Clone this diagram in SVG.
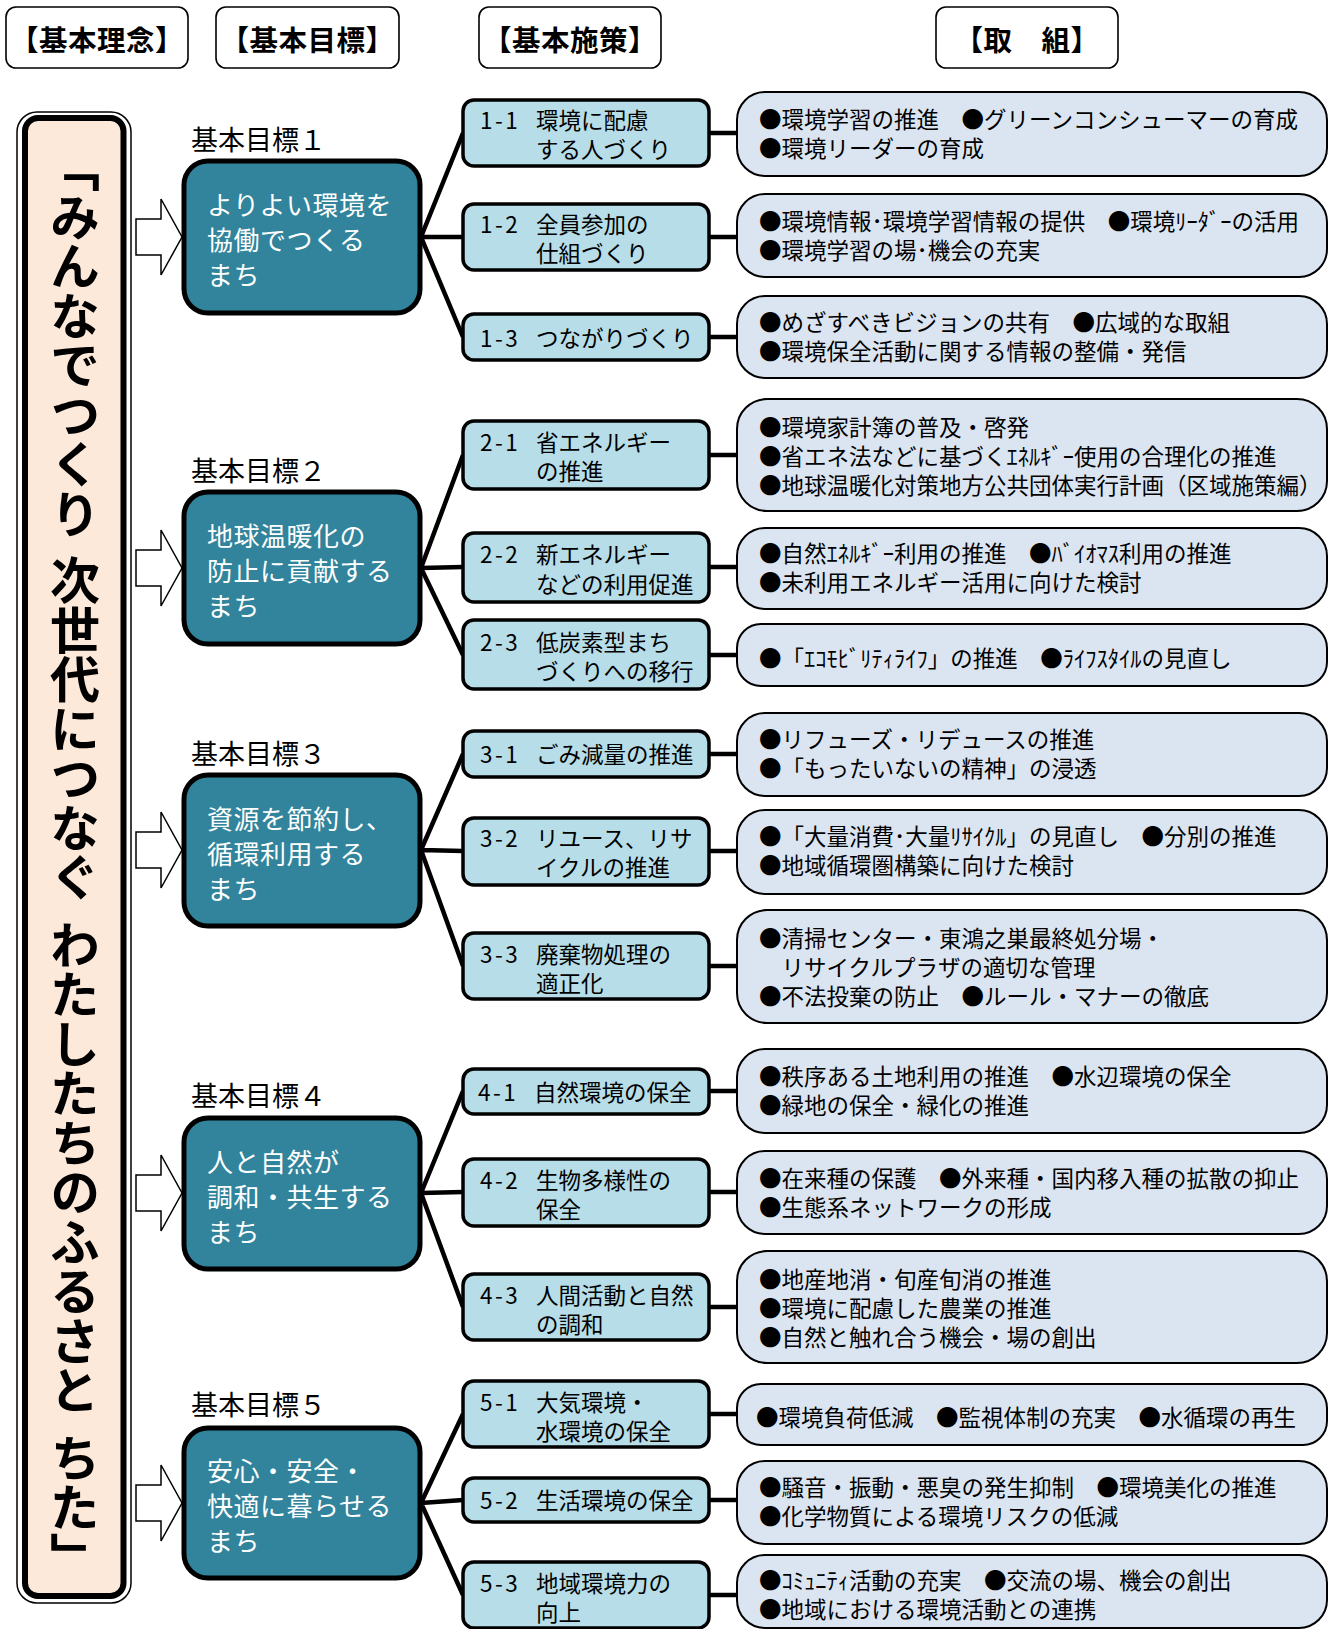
<svg xmlns="http://www.w3.org/2000/svg" width="1333" height="1629" viewBox="0 0 1333 1629">
<style>
text{font-family:"Noto Sans CJK JP","Noto Sans",sans-serif;}
.hb{fill:#fff;stroke:#000;stroke-width:1.6;}
.ht{font-size:28.5px;font-weight:bold;text-anchor:middle;dominant-baseline:central;fill:#000;letter-spacing:0.5px;}
.goal{fill:#31849b;stroke:#000;stroke-width:5;}
.gt{font-size:26px;fill:#fff;dominant-baseline:central;letter-spacing:0.5px;}
.gl{font-size:27px;fill:#000;dominant-baseline:central;}
.sub{fill:#b7dde8;stroke:#000;stroke-width:3.5;}
.st{font-size:22.5px;fill:#000;dominant-baseline:central;}
.num{letter-spacing:2.5px;}
.act{fill:#dbe5f1;stroke:#000;stroke-width:2;}
.at{font-size:22.5px;fill:#000;dominant-baseline:central;}
.con{stroke:#000;stroke-width:4.5;fill:none;}
.arr{fill:#fff;stroke:#000;stroke-width:1.5;}
.vt{font-size:50px;font-weight:bold;fill:#000;writing-mode:vertical-rl;letter-spacing:-0.5px;}
</style>
<rect width="1333" height="1629" fill="#fff"/>

<g id="headers">
<rect class="hb" x="6" y="7" width="182" height="61" rx="10"/>
<text class="ht" x="97" y="38">【基本理念】</text>
<rect class="hb" x="216" y="7" width="183" height="61" rx="10"/>
<text class="ht" x="307.5" y="38">【基本目標】</text>
<rect class="hb" x="479" y="7" width="182" height="61" rx="10"/>
<text class="ht" x="570" y="38">【基本施策】</text>
<rect class="hb" x="936" y="7" width="182" height="61" rx="10"/>
<text class="ht" x="1027" y="38">【取　組】</text>
</g>

<g id="vision">
<rect x="17" y="112" width="114" height="1491" rx="20" fill="#fff" stroke="#000" stroke-width="1.5"/>
<rect x="25" y="118" width="98.5" height="1478" rx="13" fill="#fde9d9" stroke="#000" stroke-width="6"/>
<text class="vt" x="75"><tspan y="142">「みんなでつくり </tspan><tspan y="555">次世代につなぐ </tspan><tspan y="920">わたしたちのふるさと </tspan><tspan y="1433">ちた」</tspan></text>
</g>

<g id="arrows">
<polygon class="arr" points="136,219 161,219 161,199 182,237 161,275 161,255 136,255"/>
<polygon class="arr" points="136,550 161,550 161,530 182,568 161,606 161,586 136,586"/>
<polygon class="arr" points="136,832 161,832 161,812 182,850 161,888 161,868 136,868"/>
<polygon class="arr" points="136,1175 161,1175 161,1155 182,1193 161,1231 161,1211 136,1211"/>
<polygon class="arr" points="136,1485 161,1485 161,1465 182,1503 161,1541 161,1521 136,1521"/>
</g>

<g id="connectors">
<path class="con" d="M421,237 L463,133 M421,237 L463,237 M421,237 L463,337"/>
<path class="con" d="M421,568 L463,455 M421,568 L463,567 M421,568 L463,655"/>
<path class="con" d="M421,850 L463,754 M421,850 L463,851 M421,850 L463,966"/>
<path class="con" d="M421,1193 L463,1091 M421,1193 L463,1192 M421,1193 L463,1307"/>
<path class="con" d="M421,1503 L463,1414 M421,1503 L463,1500 M421,1503 L463,1595"/>
<path class="con" d="M709,133 H737 M709,237 H737 M709,337 H737 M709,455 H737 M709,567 H737 M709,655 H737 M709,754 H737 M709,851 H737 M709,966 H737 M709,1091 H737 M709,1192 H737 M709,1307 H737 M709,1414 H737 M709,1500 H737 M709,1595 H737"/>
</g>

<g id="goal1">
<text class="gl" x="191" y="138">基本目標１</text>
<rect class="goal" x="184" y="161" width="236" height="152" rx="24"/>
<text class="gt"><tspan x="207" y="202.5">よりよい環境を</tspan><tspan x="207" y="237.5">協働でつくる</tspan><tspan x="207" y="272.5">まち</tspan></text>
</g>
<g id="goal2">
<text class="gl" x="191" y="469">基本目標２</text>
<rect class="goal" x="184" y="492" width="236" height="152" rx="24"/>
<text class="gt"><tspan x="207" y="533.5">地球温暖化の</tspan><tspan x="207" y="568.5">防止に貢献する</tspan><tspan x="207" y="603.5">まち</tspan></text>
</g>
<g id="goal3">
<text class="gl" x="191" y="752">基本目標３</text>
<rect class="goal" x="184" y="775" width="236" height="151" rx="24"/>
<text class="gt"><tspan x="207" y="816.5">資源を節約し、</tspan><tspan x="207" y="851.5">循環利用する</tspan><tspan x="207" y="886.5">まち</tspan></text>
</g>
<g id="goal4">
<text class="gl" x="191" y="1094">基本目標４</text>
<rect class="goal" x="184" y="1118" width="236" height="151" rx="24"/>
<text class="gt"><tspan x="207" y="1159.5">人と自然が</tspan><tspan x="207" y="1194.5">調和・共生する</tspan><tspan x="207" y="1229.5">まち</tspan></text>
</g>
<g id="goal5">
<text class="gl" x="191" y="1403">基本目標５</text>
<rect class="goal" x="184" y="1428" width="236" height="150" rx="24"/>
<text class="gt"><tspan x="207" y="1468.5">安心・安全・</tspan><tspan x="207" y="1503.5">快適に暮らせる</tspan><tspan x="207" y="1538.5">まち</tspan></text>
</g>

<g id="s1-1"><rect class="sub" x="463" y="100" width="246" height="66" rx="11"/>
<text class="st"><tspan class="num" x="480" y="119">1-1 </tspan><tspan x="536" y="119">環境に配慮</tspan><tspan x="536" y="148">する人づくり</tspan></text></g>
<g id="s1-2"><rect class="sub" x="463" y="204" width="246" height="66" rx="11"/>
<text class="st"><tspan class="num" x="480" y="223">1-2 </tspan><tspan x="536" y="223">全員参加の</tspan><tspan x="536" y="252">仕組づくり</tspan></text></g>
<g id="s1-3"><rect class="sub" x="463" y="314" width="246" height="46" rx="11"/>
<text class="st"><tspan class="num" x="480" y="337">1-3 </tspan><tspan x="536" y="337">つながりづくり</tspan></text></g>

<g id="s2-1"><rect class="sub" x="463" y="421" width="246" height="68" rx="11"/>
<text class="st"><tspan class="num" x="480" y="441">2-1 </tspan><tspan x="536" y="441">省エネルギー</tspan><tspan x="536" y="470">の推進</tspan></text></g>
<g id="s2-2"><rect class="sub" x="463" y="533" width="246" height="69" rx="11"/>
<text class="st"><tspan class="num" x="480" y="553">2-2 </tspan><tspan x="536" y="553">新エネルギー</tspan><tspan x="536" y="583">などの利用促進</tspan></text></g>
<g id="s2-3"><rect class="sub" x="463" y="620" width="246" height="69" rx="11"/>
<text class="st"><tspan class="num" x="480" y="641">2-3 </tspan><tspan x="536" y="641">低炭素型まち</tspan><tspan x="536" y="670">づくりへの移行</tspan></text></g>

<g id="s3-1"><rect class="sub" x="463" y="731" width="246" height="46" rx="11"/>
<text class="st"><tspan class="num" x="480" y="753">3-1 </tspan><tspan x="536" y="753">ごみ減量の推進</tspan></text></g>
<g id="s3-2"><rect class="sub" x="463" y="818" width="246" height="67" rx="11"/>
<text class="st"><tspan class="num" x="480" y="837">3-2 </tspan><tspan x="536" y="837">リユース、リサ</tspan><tspan x="536" y="866">イクルの推進</tspan></text></g>
<g id="s3-3"><rect class="sub" x="463" y="933" width="246" height="66" rx="11"/>
<text class="st"><tspan class="num" x="480" y="953">3-3 </tspan><tspan x="536" y="953">廃棄物処理の</tspan><tspan x="536" y="982">適正化</tspan></text></g>

<g id="s4-1"><rect class="sub" x="463" y="1069" width="246" height="45" rx="11"/>
<text class="st"><tspan class="num" x="478" y="1091">4-1 </tspan><tspan x="534" y="1091">自然環境の保全</tspan></text></g>
<g id="s4-2"><rect class="sub" x="463" y="1159" width="246" height="67" rx="11"/>
<text class="st"><tspan class="num" x="480" y="1179">4-2 </tspan><tspan x="536" y="1179">生物多様性の</tspan><tspan x="536" y="1208">保全</tspan></text></g>
<g id="s4-3"><rect class="sub" x="463" y="1274" width="246" height="66" rx="11"/>
<text class="st"><tspan class="num" x="480" y="1294">4-3 </tspan><tspan x="536" y="1294">人間活動と自然</tspan><tspan x="536" y="1323">の調和</tspan></text></g>

<g id="s5-1"><rect class="sub" x="463" y="1381" width="246" height="66" rx="11"/>
<text class="st"><tspan class="num" x="480" y="1401">5-1 </tspan><tspan x="536" y="1401">大気環境・</tspan><tspan x="536" y="1430">水環境の保全</tspan></text></g>
<g id="s5-2"><rect class="sub" x="463" y="1478" width="246" height="44" rx="11"/>
<text class="st"><tspan class="num" x="480" y="1499">5-2 </tspan><tspan x="536" y="1499">生活環境の保全</tspan></text></g>
<g id="s5-3"><rect class="sub" x="463" y="1562" width="246" height="66" rx="11"/>
<text class="st"><tspan class="num" x="480" y="1582">5-3 </tspan><tspan x="536" y="1582">地域環境力の</tspan><tspan x="536" y="1611">向上</tspan></text></g>

<g id="a1-1"><rect class="act" x="737" y="92" width="590" height="84" rx="28"/>
<text class="at"><tspan x="759" y="118">●環境学習の推進　●グリーンコンシューマーの育成</tspan><tspan x="759" y="147">●環境リーダーの育成</tspan></text></g>
<g id="a1-2"><rect class="act" x="737" y="194" width="590" height="83" rx="28"/>
<text class="at"><tspan x="759" y="220">●環境情報･環境学習情報の提供　●環境ﾘｰﾀﾞｰの活用</tspan><tspan x="759" y="249">●環境学習の場･機会の充実</tspan></text></g>
<g id="a1-3"><rect class="act" x="737" y="296" width="590" height="82" rx="28"/>
<text class="at"><tspan x="759" y="321">●めざすべきビジョンの共有　●広域的な取組</tspan><tspan x="759" y="350">●環境保全活動に関する情報の整備・発信</tspan></text></g>

<g id="a2-1"><rect class="act" x="737" y="399" width="590" height="112" rx="30"/>
<text class="at"><tspan x="759" y="426">●環境家計簿の普及・啓発</tspan><tspan x="759" y="455">●省エネ法などに基づくｴﾈﾙｷﾞｰ使用の合理化の推進</tspan><tspan x="759" y="484">●地球温暖化対策地方公共団体実行計画（区域施策編）</tspan></text></g>
<g id="a2-2"><rect class="act" x="737" y="528" width="590" height="81" rx="28"/>
<text class="at"><tspan x="759" y="552">●自然ｴﾈﾙｷﾞｰ利用の推進　●ﾊﾞｲｵﾏｽ利用の推進</tspan><tspan x="759" y="581">●未利用エネルギー活用に向けた検討</tspan></text></g>
<g id="a2-3"><rect class="act" x="737" y="624" width="590" height="62" rx="24"/>
<text class="at" x="759" y="657">●「ｴｺﾓﾋﾞﾘﾃｨﾗｲﾌ」の推進　●ﾗｲﾌｽﾀｲﾙの見直し</text></g>

<g id="a3-1"><rect class="act" x="737" y="713" width="590" height="83" rx="28"/>
<text class="at"><tspan x="759" y="738">●リフューズ・リデュースの推進</tspan><tspan x="759" y="767">●「もったいないの精神」の浸透</tspan></text></g>
<g id="a3-2"><rect class="act" x="737" y="810" width="590" height="84" rx="28"/>
<text class="at"><tspan x="759" y="835">●「大量消費･大量ﾘｻｲｸﾙ」の見直し　●分別の推進</tspan><tspan x="759" y="864">●地域循環圏構築に向けた検討</tspan></text></g>
<g id="a3-3"><rect class="act" x="737" y="910" width="590" height="113" rx="30"/>
<text class="at"><tspan x="759" y="937">●清掃センター・東鴻之巣最終処分場・</tspan><tspan x="759" y="966">　リサイクルプラザの適切な管理</tspan><tspan x="759" y="995">●不法投棄の防止　●ルール・マナーの徹底</tspan></text></g>

<g id="a4-1"><rect class="act" x="737" y="1049" width="590" height="84" rx="28"/>
<text class="at"><tspan x="759" y="1075">●秩序ある土地利用の推進　●水辺環境の保全</tspan><tspan x="759" y="1104">●緑地の保全・緑化の推進</tspan></text></g>
<g id="a4-2"><rect class="act" x="737" y="1151" width="590" height="83" rx="28"/>
<text class="at"><tspan x="759" y="1177">●在来種の保護　●外来種・国内移入種の拡散の抑止</tspan><tspan x="759" y="1206">●生態系ネットワークの形成</tspan></text></g>
<g id="a4-3"><rect class="act" x="737" y="1251" width="590" height="112" rx="30"/>
<text class="at"><tspan x="759" y="1278">●地産地消・旬産旬消の推進</tspan><tspan x="759" y="1307">●環境に配慮した農業の推進</tspan><tspan x="759" y="1336">●自然と触れ合う機会・場の創出</tspan></text></g>

<g id="a5-1"><rect class="act" x="737" y="1384" width="590" height="61" rx="24"/>
<text class="at" x="756" y="1416">●環境負荷低減　●監視体制の充実　●水循環の再生</text></g>
<g id="a5-2"><rect class="act" x="737" y="1461" width="590" height="83" rx="28"/>
<text class="at"><tspan x="759" y="1486">●騒音・振動・悪臭の発生抑制　●環境美化の推進</tspan><tspan x="759" y="1515">●化学物質による環境リスクの低減</tspan></text></g>
<g id="a5-3"><rect class="act" x="737" y="1555" width="590" height="73" rx="28"/>
<text class="at"><tspan x="759" y="1579">●ｺﾐｭﾆﾃｨ活動の充実　●交流の場、機会の創出</tspan><tspan x="759" y="1608">●地域における環境活動との連携</tspan></text></g>
</svg>
